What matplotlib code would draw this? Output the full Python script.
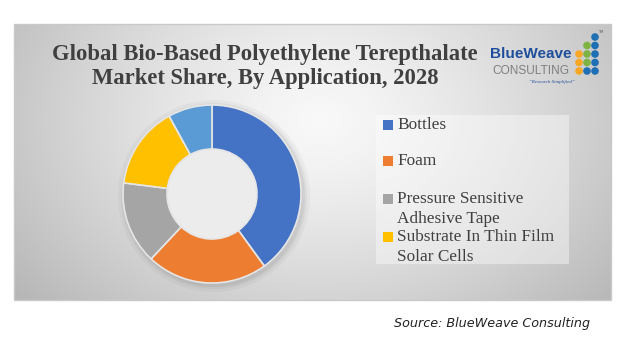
import numpy as np
import matplotlib
matplotlib.use("Agg")
import matplotlib.pyplot as plt
from matplotlib.patches import Rectangle, Circle

# ---- data ----
categories = ["Bottles", "Foam", "Pressure Sensitive\nAdhesive Tape",
              "Substrate In Thin Film\nSolar Cells", "Others"]
shares = [40, 22, 15, 15, 8]
colors = ["#4472C4", "#ED7D31", "#A5A5A5", "#FFC000", "#5B9BD5"]
legend_shown = 4
title_lines = ["Global Bio-Based Polyethylene Terepthalate",
               "Market Share, By Application, 2028"]
source_text = "Source: BlueWeave Consulting"

W, H = 634, 347
fig = plt.figure(figsize=(W / 100, H / 100), dpi=100)
fig.patch.set_facecolor("white")

# overlay axes in pixel coordinates (y down)
ov = fig.add_axes([0, 0, 1, 1])
ov.set_xlim(0, W)
ov.set_ylim(H, 0)
ov.axis("off")

# panel with radial gradient
px0, px1, py0, py1 = 14, 611, 24, 300
xs = np.linspace(px0, px1, 300)
ys = np.linspace(py0, py1, 150)
X, Y = np.meshgrid(xs, ys)
d = np.sqrt(((X - 320) / 330) ** 2 + ((Y - 120) / 240) ** 2)
val = 0.975 - 0.21 * np.clip(d, 0, 1.3) ** 1.3
img = np.dstack([val, val, val])
ov.imshow(img, extent=(px0, px1, py1, py0), aspect="auto", zorder=0, interpolation="bilinear")
ov.add_patch(Rectangle((px0, py0), px1 - px0, py1 - py0, fill=False,
                       edgecolor="#c9c9c9", linewidth=1, zorder=1))
ov.set_xlim(0, W)
ov.set_ylim(H, 0)

# title
tc = "#404040"
for i, line in enumerate(title_lines):
    ov.text(265, 54 + i * 24, line, ha="center", va="center", fontsize=16.3,
            fontweight="bold", color=tc, family=["Liberation Serif", "DejaVu Serif"], zorder=3)

# logo
ov.text(531, 54, "BlueWeave", ha="center", va="center", fontsize=11, fontweight="bold",
        color="#1f4e9c", family=["Liberation Sans", "DejaVu Sans"], zorder=3)
ov.text(531, 71, "CONSULTING", ha="center", va="center", fontsize=8.6,
        color="#7f7f7f", family=["Liberation Sans", "DejaVu Sans"], zorder=3)
ov.text(552, 82, "\u201cResearch Simplified\u201d", ha="center", va="center", fontsize=3.6,
        style="italic", color="#1f4e9c", family=["Liberation Serif"], zorder=3)
dot_cols = [579, 587, 595]
dot_rows = [37, 45.5, 54, 62.5, 71]
dot_map = {
    0: [None, None, "#f9a825", "#f9a825", "#f9a825"],
    1: [None, "#7cb342", "#7cb342", "#7cb342", "#1f6fb5"],
    2: ["#1f6fb5", "#1f6fb5", "#1f6fb5", "#1f6fb5", "#1f6fb5"],
}
for ci, cx in enumerate(dot_cols):
    for ri, cy in enumerate(dot_rows):
        c = dot_map[ci][ri]
        if c:
            ov.add_patch(Circle((cx, cy), 3.1, color=c, zorder=3))
ov.text(601, 32, "TM", fontsize=2.5, color="#555555", ha="center", va="center", zorder=3)

# legend box
ov.add_patch(Rectangle((376, 115), 193, 149, facecolor="white", alpha=0.4,
                       edgecolor="none", zorder=2))
first_line_y = [125, 161, 199, 237]
for k in range(legend_shown):
    y0 = first_line_y[k]
    ov.add_patch(Rectangle((383, y0 - 5.5), 10, 10, facecolor=colors[k], edgecolor="none", zorder=3))
    for j, ln in enumerate(categories[k].split("\n")):
        ov.text(397, y0 + j * 20, ln, ha="left", va="center", fontsize=12.4, color=tc,
                family=["Liberation Serif", "DejaVu Serif"], zorder=3)

# source
ov.text(394, 323, source_text, ha="left", va="center", fontsize=9.2, style="italic",
        color="#222222", family=["DejaVu Sans"], zorder=3)

# donut shadow (soft)
for r, a in [(96, 0.03), (93, 0.04), (91, 0.05)]:
    ov.add_patch(Circle((214, 196), r, color="black", alpha=a, zorder=2, linewidth=0))

# donut
cx, cy, R = 212, 194, 89
ax = fig.add_axes([(cx - R) / W, (H - cy - R) / H, 2 * R / W, 2 * R / H])
ax.pie(shares, colors=colors, startangle=90, counterclock=False,
       wedgeprops=dict(width=1 - 45 / 89, edgecolor="#e6e6e6", linewidth=1.2))
ax.set_xlim(-1.0, 1.0)
ax.set_ylim(-1.0, 1.0)
ax.set_aspect("auto")
ax.axis("off")
# inner hole tint
ax.add_patch(Circle((0, 0), 45 / 89 - 0.01, color="#ececec", zorder=0))

fig.savefig("out.png", dpi=100, facecolor="white")
